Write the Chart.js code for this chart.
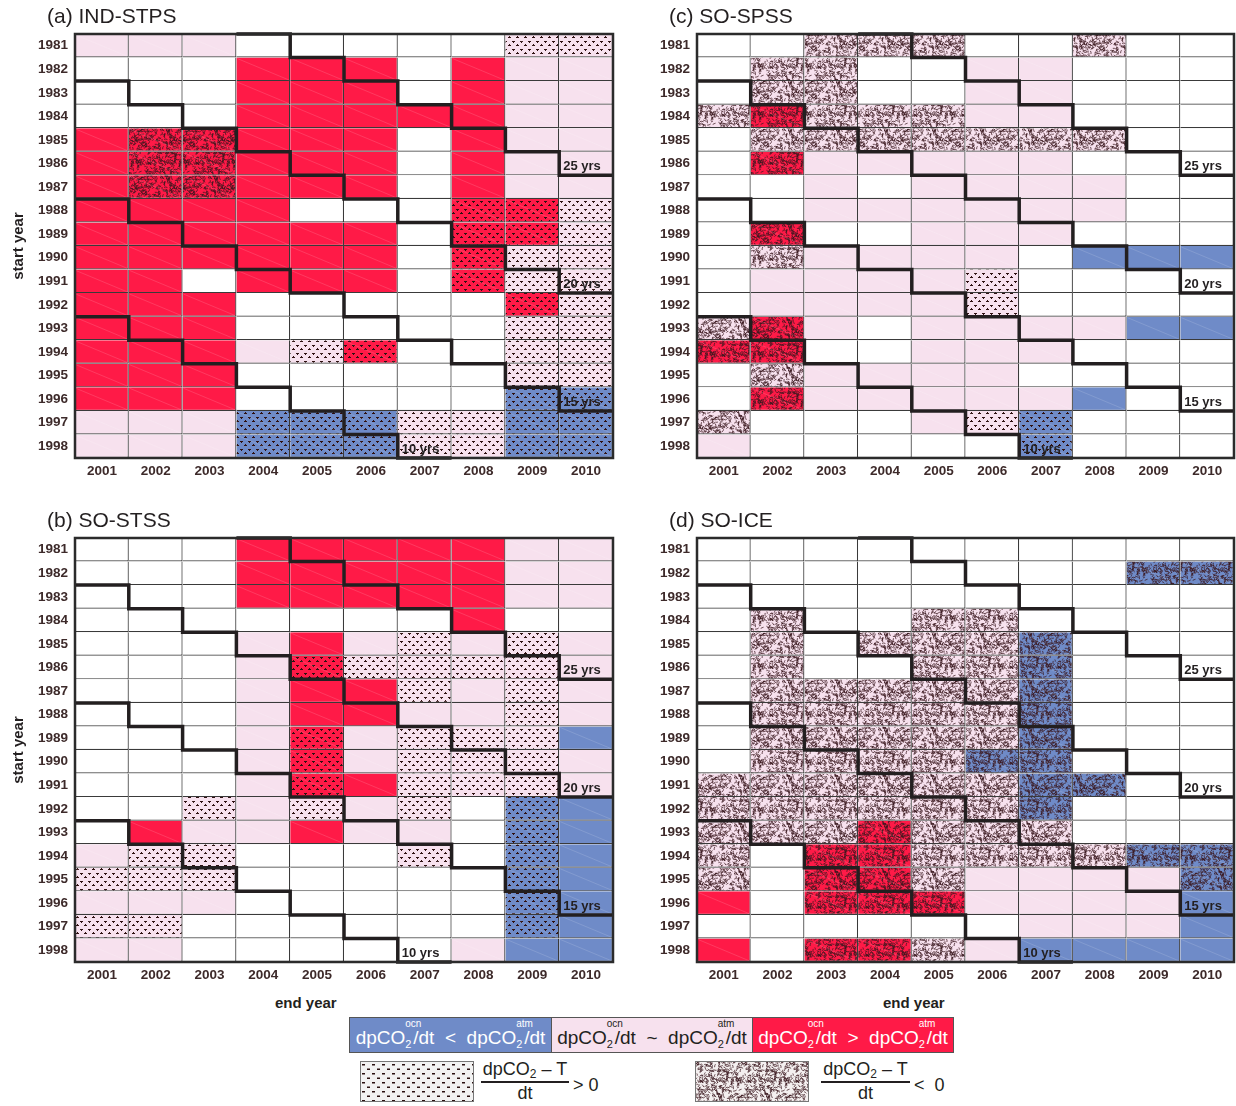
<!DOCTYPE html>
<html>
<head>
<meta charset="utf-8">
<script src="https://cdn.jsdelivr.net/npm/chart.js@4.4.1/dist/chart.umd.min.js"></script>
<style>
  html, body { margin: 0; padding: 0; background: #fff; }
  body { width: 1236px; height: 1106px; position: relative; overflow: hidden;
         font-family: 'Liberation Sans', Arial, Helvetica, sans-serif; color: #231f20; }
  canvas.panel { position: absolute; }
  .axlab { position: absolute; font-weight: bold; font-size: 15px; line-height: 16px; color: #231f20; }
  .lbox { position: absolute; top: 1017px; height: 36px; line-height: 40px; text-align: center;
          font-size: 19px; white-space: nowrap; box-sizing: border-box; border: 1px solid #555; }
  .ss { display: inline-block; position: relative; width: 8px; height: 10px; }
  .ss i { position: absolute; font-style: normal; font-size: 10px; line-height: 10px; left: 0px; top: -15px; }
  .ss b { position: absolute; font-weight: normal; font-size: 11px; line-height: 11px; left: 0px; top: 5px; }
  .pbox { position: absolute; top: 1061px; border: 1px solid #777; }
  .frac { position: absolute; top: 1059px; font-size: 18px; text-align: center; white-space: nowrap; }
  .frac .num { line-height: 20px; }
  .frac .num sub { font-size: 12px; vertical-align: -3px; line-height: 0; }
  .frac .bar { height: 2px; background: #231f20; margin: 2px 0 1px 0; }
  .frac .den { line-height: 18px; }
  .rel { position: absolute; top: 1074px; font-size: 18px; line-height: 22px; white-space: nowrap; }
</style>
</head>
<body>
<canvas class="panel" id="pa" width="620" height="490" style="left:0px;top:0px"></canvas>
<canvas class="panel" id="pc" width="614" height="490" style="left:622px;top:0px"></canvas>
<canvas class="panel" id="pb" width="620" height="490" style="left:0px;top:504px"></canvas>
<canvas class="panel" id="pd" width="614" height="490" style="left:622px;top:504px"></canvas>

<div class="axlab" style="left:275px;top:995px">end year</div>
<div class="axlab" style="left:883px;top:995px">end year</div>

<div class="lbox" style="left:349px;width:203px;background:#6f8bc8;color:#fff">dpCO<span class="ss"><i>ocn</i><b>2</b></span>/dt &nbsp;&lt;&nbsp; dpCO<span class="ss"><i>atm</i><b>2</b></span>/dt</div>
<div class="lbox" style="left:551px;width:202px;background:#f7e1ee;color:#231f20">dpCO<span class="ss"><i>ocn</i><b>2</b></span>/dt &nbsp;~&nbsp; dpCO<span class="ss"><i>atm</i><b>2</b></span>/dt</div>
<div class="lbox" style="left:752px;width:202px;background:#ff1a47;color:#fff">dpCO<span class="ss"><i>ocn</i><b>2</b></span>/dt &nbsp;&gt;&nbsp; dpCO<span class="ss"><i>atm</i><b>2</b></span>/dt</div>

<canvas class="pbox" id="keyDots" width="112" height="39" style="left:360px"></canvas>
<div class="frac" style="left:481px;width:88px"><div class="num">dpCO<sub>2</sub> – T</div><div class="bar"></div><div class="den">dt</div></div>
<div class="rel" style="left:573px">&gt; 0</div>

<canvas class="pbox" id="keyScrib" width="112" height="39" style="left:695px"></canvas>
<div class="frac" style="left:821px;width:89px"><div class="num">dpCO<sub>2</sub> – T</div><div class="bar"></div><div class="den">dt</div></div>
<div class="rel" style="left:914px">&lt;&nbsp; 0</div>

<script>
// Axes of every panel
const endYears = [2001, 2002, 2003, 2004, 2005, 2006, 2007, 2008, 2009, 2010];
const startYears = [1981, 1982, 1983, 1984, 1985, 1986, 1987, 1988, 1989,
                    1990, 1991, 1992, 1993, 1994, 1995, 1996, 1997, 1998];
// Trend window lengths (years) outlined by the staircase lines
const windowLengths = [10, 15, 20, 25];

// One string per start year, one cell per end year (2001..2010).
// Letter: w = no significant difference, p = ocean ~ atmosphere,
//         b = ocean < atmosphere, r = ocean > atmosphere.
// Suffix: '+' dpCO2-T trend > 0 (dots), '-' dpCO2-T trend < 0 (scribbles).
const indStps = [
  "p  p  p  w  w  w  w  w  p+ p+",
  "w  w  w  r  r  r  w  r  p  p",
  "w  w  w  r  r  r  w  r  p  p",
  "w  w  w  r  r  r  r  r  p  p",
  "r  r- r- r  r  r  w  r  p  p",
  "r  r- r- r  r  r  w  r  p  p",
  "r  r- r- r  r  r  w  r  p  p",
  "r  r  r  r  w  w  w  r+ r+ p+",
  "r  r  r  r  r  r  w  r+ r+ p+",
  "r  r  r  r  r  r  w  r+ p+ p+",
  "r  r  w  r  r  r  w  r+ p+ p+",
  "r  r  r  w  w  w  w  w  r+ p+",
  "r  r  r  w  w  w  w  w  p+ p+",
  "r  r  r  p  p+ r+ w  w  p+ p+",
  "r  r  r  w  w  w  w  w  p+ p+",
  "r  r  r  w  w  w  w  w  b+ b+",
  "p  p  p  b+ b+ b+ p+ p+ b+ b+",
  "p  p  p  b+ b+ b+ p+ p+ b+ b+"
];
const soSpss = [
  "w  w  p- p- p- w  w  p- w  w",
  "w  p- p- w  w  p  p  w  w  w",
  "w  p- p- w  w  p  p  w  w  w",
  "p- r- p- p- p- p  p  w  w  w",
  "w  p- p- p- p- p- p- p- w  w",
  "w  r- p  p  p  p  p  w  w  w",
  "w  w  p  w  p  p  p  p  w  w",
  "w  w  p  p  p  p  p  p  w  w",
  "w  r- w  w  p  p  p  w  w  w",
  "w  p- p  p  p  p  w  b  b  b",
  "w  p  p  p  p  p+ w  w  w  w",
  "w  p  p  p  p  p+ w  w  w  w",
  "p- r- p  w  p  p  p  p  b  b",
  "r- r- w  w  p  p  p  w  w  w",
  "w  p- p  p  p  p  w  w  w  w",
  "w  r- p  p  p  p  p  b  w  w",
  "p- w  w  w  p  p+ b+ w  w  w",
  "p  w  w  w  w  w  b+ w  w  w"
];
const soStss = [
  "w  w  w  r  r  r  r  r  p  p",
  "w  w  w  r  r  r  r  r  p  p",
  "w  w  w  r  r  r  r  r  p  p",
  "w  w  w  w  w  w  w  r  w  w",
  "w  w  w  p  r  p  p+ p  p+ p",
  "w  w  w  p  r+ p+ p+ p+ p+ p",
  "w  w  w  p  r  r  p+ p  p+ p",
  "w  w  w  p  r  r  p  p  p+ p",
  "w  w  w  p  r+ p  p+ p+ p+ b",
  "w  w  w  p  r+ p  p+ p+ p+ p",
  "w  w  w  p  r+ r  p+ p+ p+ p",
  "w  w  p+ p  p+ p  p+ w  b+ b",
  "w  r  p  p  r  p  p  w  b+ b",
  "p  p+ p+ w  w  w  p+ w  b+ b",
  "p+ p+ p+ w  w  w  w  w  b+ b",
  "p  p  p  w  w  w  w  w  b+ b",
  "p+ p+ w  w  w  w  w  w  b+ b",
  "p  p  w  w  w  w  w  p  b  b"
];
const soIce = [
  "w  w  w  w  w  w  w  w  w  w",
  "w  w  w  w  w  w  w  w  b- b-",
  "w  w  w  w  w  w  w  w  w  w",
  "w  p- w  w  p- p- w  w  w  w",
  "w  p- w  p- p- p- b- w  w  w",
  "w  p- w  w  p- p- b- w  w  w",
  "w  p- p- p- p- p- b- w  w  w",
  "w  p- p- p- p- p- b- w  w  w",
  "w  p- p- p- p- p- b- w  w  w",
  "w  p- p- p- p- b- b- w  w  w",
  "p- p- p- p- p- p- b- b- w  w",
  "p- p- p- p- p- p- b- w  w  w",
  "p- p- p- r- p- p- p- w  w  w",
  "p- w  r- r- p- p- p- p- b- b-",
  "p- w  r- r- p- p  p  p  p  b-",
  "r  w  r- r- r- p  p  p  p  b",
  "w  w  w  w  w  w  p  p  p  b",
  "r  w  r- r- p- p  b  b  b  b"
];

const panels = [
  { id: 'pa', tag: '(a)', name: 'IND-STPS', cells: indStps, yTitle: true,  right: 7 },
  { id: 'pc', tag: '(c)', name: 'SO-SPSS',  cells: soSpss,  yTitle: false, right: 2 },
  { id: 'pb', tag: '(b)', name: 'SO-STSS',  cells: soStss,  yTitle: true,  right: 7 },
  { id: 'pd', tag: '(d)', name: 'SO-ICE',   cells: soIce,   yTitle: false, right: 2 }
];

const FILL = { w: '#ffffff', p: '#f7e1ee', b: '#6f8bc8', r: '#ff1a47' };
const INK = '#231f20';
const TICK = '#3d2a2a';
const FONT = "'Liberation Sans', Arial, Helvetica, sans-serif";
Chart.defaults.font.family = FONT;

// Deterministic generator for the scribble texture
function lcg(seed) {
  let s = seed >>> 0;
  return () => { s = (Math.imul(s, 1664525) + 1013904223) >>> 0; return s / 4294967296; };
}

function dotsTile(base) {
  const t = document.createElement('canvas');
  t.width = 8; t.height = 8;
  const g = t.getContext('2d');
  g.fillStyle = base; g.fillRect(0, 0, 8, 8);
  g.fillStyle = '#2e1010';
  g.fillRect(0, 1, 3, 1); g.fillRect(1, 2, 1, 1);      // T mark
  g.fillRect(5, 4, 1, 1); g.fillRect(4, 5, 3, 1);      // inverted T mark
  return t;
}

function scribbleTile(base) {
  const n = 48;
  const t = document.createElement('canvas');
  t.width = n; t.height = n;
  const g = t.getContext('2d');
  g.fillStyle = base; g.fillRect(0, 0, n, n);
  const rnd = lcg(20130917);
  g.strokeStyle = 'rgba(58,24,30,0.85)';
  g.lineWidth = 0.9;
  g.lineCap = 'round';
  for (let i = 0; i < 430; i++) {
    const x = rnd() * n, y = rnd() * n, a = rnd() * Math.PI * 2, l = 1.4 + rnd() * 1.8, bend = (rnd() - 0.5) * 1.6;
    for (const dx of [-n, 0, n]) for (const dy of [-n, 0, n]) {
      const x0 = x + dx, y0 = y + dy;
      const x1 = x0 + Math.cos(a) * l, y1 = y0 + Math.sin(a) * l;
      g.beginPath();
      g.moveTo(x0, y0);
      g.quadraticCurveTo((x0 + x1) / 2 - Math.sin(a) * bend, (y0 + y1) / 2 + Math.cos(a) * bend, x1, y1);
      g.stroke();
    }
  }
  return t;
}

function makeFiller(ctx) {
  const cache = {};
  return code => {
    if (cache[code]) return cache[code];
    const base = FILL[code[0]];
    let fill = base;
    if (code[1] === '+') fill = ctx.createPattern(dotsTile(base), 'repeat');
    else if (code[1] === '-') fill = ctx.createPattern(scribbleTile(base), 'repeat');
    cache[code] = fill;
    return fill;
  };
}

// Staircase outline of one window length, in (end year, start year) units
function stairPoints(L) {
  const pts = [];
  const first = startYears[0] - 1, last = startYears[startYears.length - 1];
  endYears.forEach(E => {
    const S = E - L + 1;
    if (S >= first && S <= last) pts.push({ x: E - 0.5, y: S + 0.5 });
  });
  const tail = pts[pts.length - 1];
  pts.push({ x: tail.x + 1, y: tail.y });
  return pts;
}

const panelDecor = {
  id: 'panelDecor',
  afterDatasetDraw(chart, args) {
    if (args.meta.type !== 'bar') return;
    const ds = chart.data.datasets[args.index];
    const ctx = chart.ctx;
    ctx.save();
    ctx.strokeStyle = 'rgba(255,255,255,0.2)';
    ctx.lineWidth = 0.7;
    args.meta.data.forEach((el, i) => {
      if (ds.codes[i][0] === 'w') return;
      const p = el.getProps(['x', 'y', 'base', 'height'], true);
      const l = Math.min(p.x, p.base), r = Math.max(p.x, p.base);
      ctx.beginPath();
      ctx.moveTo(l + 1, p.y - p.height / 2 + 1);
      ctx.lineTo(r - 1, p.y + p.height / 2 - 1);
      ctx.stroke();
    });
    ctx.restore();
  },
  afterDatasetsDraw(chart, args, opts) {
    const ctx = chart.ctx;
    const xs = chart.scales.x, ys = chart.scales.y;
    const a = chart.chartArea;
    ctx.save();
    // window length labels
    ctx.fillStyle = INK;
    ctx.font = "bold 13px " + FONT;
    ctx.textBaseline = 'alphabetic';
    ctx.textAlign = 'left';
    const lastEnd = endYears[endYears.length - 1], lastStart = startYears[startYears.length - 1];
    windowLengths.forEach(L => {
      const E = Math.min(lastEnd, lastStart + L - 1);
      const S = E - L + 1;
      ctx.fillText(L + ' yrs', xs.getPixelForValue(E - 0.5) + 4, ys.getPixelForValue(S + 0.5) - 5);
    });
    // frame
    ctx.strokeStyle = '#2b2b2b';
    ctx.lineWidth = 2.5;
    ctx.strokeRect(a.left, a.top, a.right - a.left, a.bottom - a.top);
    // panel title
    ctx.fillStyle = INK;
    ctx.font = "21px " + FONT;
    ctx.textBaseline = 'middle';
    ctx.fillText(opts.tag + ' ' + opts.name, 47, 17);
    ctx.restore();
  }
};

function buildPanel(p) {
  const canvas = document.getElementById(p.id);
  const filler = makeFiller(canvas.getContext('2d'));
  const grid = p.cells.map(row => row.trim().split(/\s+/));
  const datasets = [];
  windowLengths.forEach(L => {
    datasets.push({
      type: 'line', data: stairPoints(L), stepped: 'before', order: 0,
      borderColor: INK, borderWidth: 3.5, pointRadius: 0, fill: false,
      borderJoinStyle: 'miter', borderCapStyle: 'butt', clip: 4
    });
  });
  endYears.forEach((E, ci) => {
    const codes = startYears.map((S, ri) => grid[ri][ci]);
    datasets.push({
      type: 'bar', order: 1, grouped: false, codes,
      data: startYears.map(S => ({ y: S, x: [E - 0.5, E + 0.5] })),
      backgroundColor: codes.map(filler),
      borderColor: '#3a3a3a',
      borderWidth: { top: 0, left: 0, right: 1.2, bottom: 1.2 },
      borderSkipped: false, inflateAmount: 0,
      categoryPercentage: 1, barPercentage: 1
    });
  });
  const tickFont = { size: 13.5, weight: 'bold', family: FONT };
  return new Chart(canvas, {
    type: 'bar',
    data: { datasets },
    options: {
      indexAxis: 'y',
      responsive: false,
      animation: false,
      events: [],
      layout: { padding: { top: 34, right: p.right, left: 0, bottom: 0 } },
      plugins: {
        legend: { display: false }, tooltip: { enabled: false }, title: { display: false },
        panelDecor: { tag: p.tag, name: p.name }
      },
      scales: {
        x: {
          type: 'linear', min: endYears[0] - 0.5, max: endYears[endYears.length - 1] + 0.5,
          offset: false, beginAtZero: false, bounds: 'data',
          grid: { display: false, drawTicks: false }, border: { display: false },
          afterBuildTicks: s => { s.ticks = endYears.map(v => ({ value: v })); },
          afterFit: s => { s.height = 32; },
          ticks: { autoSkip: false, maxRotation: 0, padding: 5, color: TICK, font: tickFont,
                   callback: v => String(v) }
        },
        y: {
          type: 'linear', reverse: true,
          min: startYears[0] - 0.5, max: startYears[startYears.length - 1] + 0.5,
          offset: false, beginAtZero: false, bounds: 'data',
          grid: { display: false, drawTicks: false }, border: { display: false },
          afterBuildTicks: s => { s.ticks = startYears.map(v => ({ value: v })); },
          afterFit: s => { s.width = 75; },
          ticks: { autoSkip: false, padding: 7, color: TICK, font: tickFont,
                   callback: v => String(v) },
          title: { display: p.yTitle, text: 'start year', color: INK,
                   font: { size: 15, weight: 'bold', family: FONT }, padding: { top: 10, bottom: 0 } }
        }
      }
    },
    plugins: [panelDecor]
  });
}

panels.forEach(buildPanel);

// Pattern swatches in the key
(function drawKeys() {
  const d = document.getElementById('keyDots').getContext('2d');
  const dt = document.createElement('canvas'); dt.width = 10; dt.height = 9;
  const dg = dt.getContext('2d');
  dg.fillStyle = '#f2f2f2'; dg.fillRect(0, 0, 10, 9);
  dg.fillStyle = '#2a1010'; dg.fillRect(1, 2, 3, 1.5); dg.fillRect(6, 6.5, 3, 1.5);
  d.fillStyle = d.createPattern(dt, 'repeat'); d.fillRect(0, 0, 112, 39);
  const s = document.getElementById('keyScrib').getContext('2d');
  s.fillStyle = s.createPattern(scribbleTile('#f4f0f0'), 'repeat'); s.fillRect(0, 0, 112, 39);
})();
</script>
</body>
</html>
